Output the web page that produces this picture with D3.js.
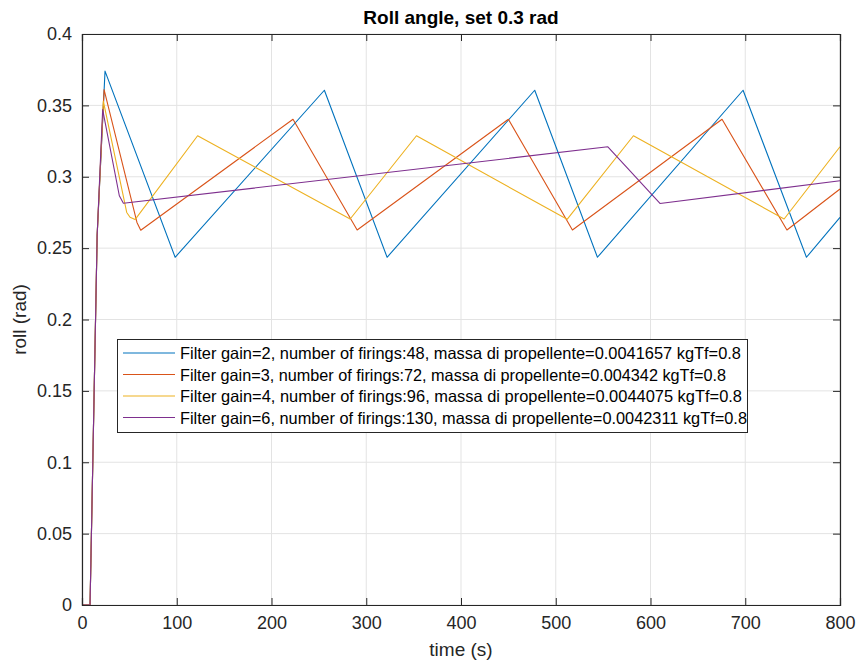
<!DOCTYPE html>
<html>
<head>
<meta charset="utf-8">
<script src="https://cdn.jsdelivr.net/npm/d3@7"></script>
<style>
  body { margin: 0; background: #fff; }
  svg text { font-family: "Liberation Sans", Arial, sans-serif; }
</style>
</head>
<body>
<svg id="chart" width="860" height="664"></svg>
<script>
// Roll angle response for four filter gains: [time (s), roll (rad)] breakpoints
const gain2 = [[0,0],[8.5,0],[16,0.259],[24.3,0.374],[98.3,0.2436],[255.8,0.3606],[322,0.2436],[477.8,0.3606],[544,0.2436],[697.7,0.3606],[764.6,0.2436],[800,0.2716]];
const gain3 = [[0,0],[8.5,0],[16,0.259],[23.3,0.361],[58,0.268],[62,0.2625],[222.7,0.3403],[290.4,0.2627],[450,0.3403],[517.6,0.2627],[675.5,0.3403],[744,0.2627],[800,0.2914]];
const gain4 = [[0,0],[8.5,0],[16,0.259],[22.5,0.353],[47.2,0.275],[50.7,0.2716],[56,0.270],[122,0.3287],[283,0.2704],[353,0.3287],[512,0.2702],[582,0.3287],[741,0.2704],[800,0.321]];
const gain6 = [[0,0],[8.5,0],[16,0.259],[21.8,0.347],[39.4,0.2867],[43.7,0.2814],[555,0.321],[610,0.2813],[800,0.2972]];

const seriesNames = [
  "Filter gain=2, number of firings:48, massa di propellente=0.0041657 kgTf=0.8",
  "Filter gain=3, number of firings:72, massa di propellente=0.004342 kgTf=0.8",
  "Filter gain=4, number of firings:96, massa di propellente=0.0044075 kgTf=0.8",
  "Filter gain=6, number of firings:130, massa di propellente=0.0042311 kgTf=0.8"
];
const seriesColors = ["#0072BD", "#D95319", "#EDB120", "#7E2F8E"];
const seriesData = [gain2, gain3, gain4, gain6];

const xTicks = [0,100,200,300,400,500,600,700,800];
const yTicks = [0,0.05,0.1,0.15,0.2,0.25,0.3,0.35,0.4];

const svg = d3.select("#chart");
const plotL = 82, plotR = 840, plotT = 34, plotB = 605;

const x = d3.scaleLinear().domain([0, 800]).range([plotL, plotR]);
const y = d3.scaleLinear().domain([0, 0.4]).range([plotB, plotT]);

// grid
const grid = svg.append("g");
grid.selectAll(".gx").data(xTicks).join("line")
  .attr("x1", d => x(d)).attr("x2", d => x(d))
  .attr("y1", plotT).attr("y2", plotB)
  .attr("stroke", "#e3e3e3").attr("stroke-width", 1);
grid.selectAll(".gy").data(yTicks).join("line")
  .attr("x1", plotL).attr("x2", plotR)
  .attr("y1", d => y(d)).attr("y2", d => y(d))
  .attr("stroke", "#e3e3e3").attr("stroke-width", 1);

// data lines
const line = d3.line().x(d => x(d[0])).y(d => y(d[1]));
svg.append("g").selectAll("path").data(seriesData).join("path")
  .attr("d", line)
  .attr("fill", "none")
  .attr("stroke", (d, i) => seriesColors[i])
  .attr("stroke-width", 1.1)
  .attr("stroke-linejoin", "round");

// axes with inward ticks on all four sides
const axisColor = "#262626";
const tickLen = 7;
const xb = svg.append("g").attr("transform", `translate(0,${plotB})`)
  .call(d3.axisBottom(x).tickValues(xTicks).tickSize(-tickLen).tickPadding(11).tickFormat(d3.format("d")));
const xt = svg.append("g").attr("transform", `translate(0,${plotT})`)
  .call(d3.axisTop(x).tickValues(xTicks).tickSize(-tickLen).tickFormat(""));
const yl = svg.append("g").attr("transform", `translate(${plotL},0)`)
  .call(d3.axisLeft(y).tickValues(yTicks).tickSize(-tickLen).tickPadding(10).tickFormat(d => String(+d.toFixed(2))));
const yr = svg.append("g").attr("transform", `translate(${plotR},0)`)
  .call(d3.axisRight(y).tickValues(yTicks).tickSize(-tickLen).tickFormat(""));
[xb, xt, yl, yr].forEach(g => {
  g.select(".domain").attr("stroke", axisColor).attr("stroke-width", 1.2);
  g.selectAll(".tick line").attr("stroke", axisColor).attr("stroke-width", 1);
  g.selectAll(".tick text").attr("fill", "#262626").style("font-size", "18px");
});
xb.selectAll(".tick line").filter(d => d === 0 || d === 800).attr("stroke", "none");
xt.selectAll(".tick line").filter(d => d === 0 || d === 800).attr("stroke", "none");
yl.selectAll(".tick line").filter(d => d === 0 || d === 0.4).attr("stroke", "none");
yr.selectAll(".tick line").filter(d => d === 0 || d === 0.4).attr("stroke", "none");

// titles
svg.append("text").attr("x", (plotL + plotR) / 2).attr("y", 24)
  .attr("text-anchor", "middle").style("font-size", "19px").style("font-weight", "bold")
  .attr("fill", "#000").text("Roll angle, set 0.3 rad");
svg.append("text").attr("x", (plotL + plotR) / 2).attr("y", 656)
  .attr("text-anchor", "middle").style("font-size", "19px").attr("fill", "#262626").text("time (s)");
svg.append("text").attr("transform", `translate(26,${(plotT + plotB) / 2}) rotate(-90)`)
  .attr("text-anchor", "middle").style("font-size", "19px").attr("fill", "#262626").text("roll (rad)");

// legend
const lg = svg.append("g");
lg.append("rect").attr("x", 117.5).attr("y", 339.5).attr("width", 630).attr("height", 93)
  .attr("fill", "#fff").attr("stroke", "#262626").attr("stroke-width", 1);
const rows = lg.selectAll("g.row").data(seriesNames).join("g")
  .attr("transform", (d, i) => `translate(0,${353 + i * 21.5})`);
rows.append("line").attr("x1", 123).attr("x2", 175).attr("y1", 0).attr("y2", 0)
  .attr("stroke", (d, i) => seriesColors[i]).attr("stroke-width", 1.1);
rows.append("text").attr("x", 180).attr("y", 6).style("font-size", "16.5px").attr("fill", "#000")
  .text(d => d)
  .each(function(d, i) {
    const target = [561, 546, 562, 567][i];
    d3.select(this).attr("textLength", target).attr("lengthAdjust", "spacingAndGlyphs");
  });
</script>
</body>
</html>
